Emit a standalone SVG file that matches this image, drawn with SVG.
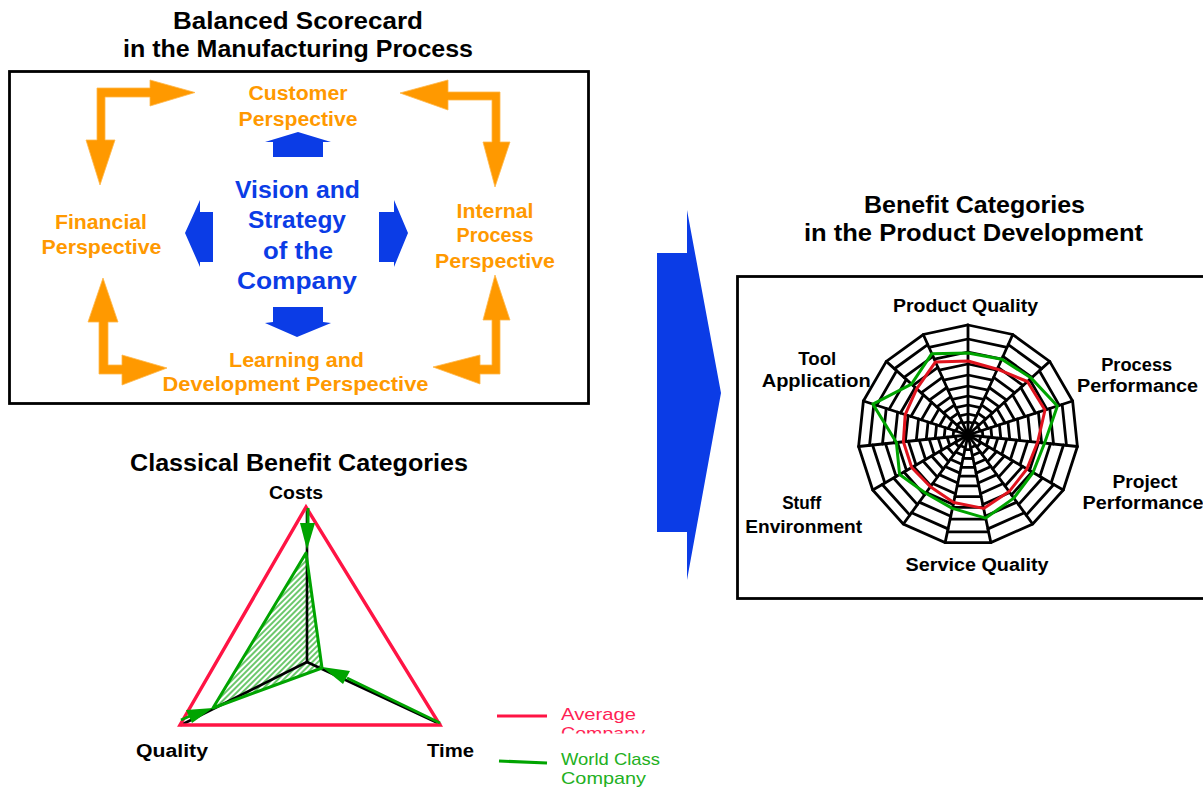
<svg xmlns="http://www.w3.org/2000/svg" xmlns:xlink="http://www.w3.org/1999/xlink" width="1203" height="787" viewBox="0 0 1203 787">
  <style>
    text { font-family: "Liberation Sans", Arial, sans-serif; }
    .ttl { font-size: 23px; font-weight: bold; fill: #000; text-anchor: middle; }
    .org { font-size: 20px; font-weight: bold; fill: #FF9900; text-anchor: middle; }
    .vis { font-size: 23px; font-weight: bold; fill: #0B3CE6; text-anchor: middle; }
    .lbl { font-size: 18px; font-weight: bold; fill: #000; text-anchor: middle; }
    .leg { font-size: 17px; }
    .frame { fill: none; stroke: #000; stroke-width: 2.8; }
    .orange { fill: #FF9900; stroke: #FFB74A; stroke-width: 0.8; }
    .blue { fill: #0B3CE6; }
    .web { stroke: #000; stroke-width: 2.8; stroke-linecap: round; fill: none; }
    .green { stroke: #00A400; stroke-width: 3; fill: none; stroke-linejoin: round; }
    .gfill { fill: #00A400; }
  </style>
  <defs>
    <pattern id="hatch" patternUnits="userSpaceOnUse" width="4" height="4" patternTransform="rotate(45)">
      <rect x="0" y="0" width="4" height="4" fill="#ffffff"/>
      <rect x="0" y="0" width="2" height="4" fill="#6CC86C"/>
    </pattern>
    <clipPath id="legClip">
      <rect x="540" y="690" width="160" height="43.5"/>
    </clipPath>
    <!-- one web sector: spoke plus ring segments, two alternating ring sets -->
    <g id="secA" class="web">
      <line x1="0" y1="0" x2="0" y2="-110"/>
      <line x1="0" y1="-13" x2="5.29" y2="-11.88"/>
      <line x1="0" y1="-21" x2="8.54" y2="-19.18"/>
      <line x1="0" y1="-30" x2="12.20" y2="-27.41"/>
      <line x1="0" y1="-39" x2="15.86" y2="-35.63"/>
      <line x1="0" y1="-49" x2="19.93" y2="-44.76"/>
      <line x1="0" y1="-60" x2="24.40" y2="-54.81"/>
      <line x1="0" y1="-71" x2="28.88" y2="-64.86"/>
      <line x1="0" y1="-83" x2="33.76" y2="-75.82"/>
      <line x1="0" y1="-96" x2="39.04" y2="-87.70"/>
    </g>
    <g id="secB" class="web">
      <line x1="0" y1="0" x2="0" y2="-110"/>
      <line x1="0" y1="-15" x2="6.10" y2="-13.70"/>
      <line x1="0" y1="-24" x2="9.76" y2="-21.92"/>
      <line x1="0" y1="-33" x2="13.42" y2="-30.15"/>
      <line x1="0" y1="-42" x2="17.08" y2="-38.37"/>
      <line x1="0" y1="-52" x2="21.15" y2="-47.50"/>
      <line x1="0" y1="-63" x2="25.62" y2="-57.55"/>
      <line x1="0" y1="-74" x2="30.10" y2="-67.60"/>
      <line x1="0" y1="-86" x2="34.98" y2="-78.56"/>
      <line x1="0" y1="-99" x2="40.26" y2="-90.44"/>
    </g>
  </defs>

  <rect width="1203" height="787" fill="#ffffff"/>

  <!-- ===== Balanced scorecard panel ===== -->
  <g id="bsc-title">
    <text class="ttl" x="298" y="29" textLength="250" lengthAdjust="spacingAndGlyphs">Balanced Scorecard</text>
    <text class="ttl" x="298" y="57" textLength="350" lengthAdjust="spacingAndGlyphs">in the Manufacturing Process</text>
  </g>
  <rect id="bsc-frame" class="frame" x="9.5" y="71.5" width="579" height="332"/>

  <g id="node-customer">
    <text class="org" x="298" y="100" textLength="99" lengthAdjust="spacingAndGlyphs">Customer</text>
    <text class="org" x="298" y="126" textLength="119" lengthAdjust="spacingAndGlyphs">Perspective</text>
  </g>
  <g id="node-financial">
    <text class="org" x="101" y="229" textLength="92" lengthAdjust="spacingAndGlyphs">Financial</text>
    <text class="org" x="101.5" y="254" textLength="120" lengthAdjust="spacingAndGlyphs">Perspective</text>
  </g>
  <g id="node-internal">
    <text class="org" x="495" y="218" textLength="77" lengthAdjust="spacingAndGlyphs">Internal</text>
    <text class="org" x="495" y="242" textLength="77" lengthAdjust="spacingAndGlyphs">Process</text>
    <text class="org" x="495" y="268" textLength="120" lengthAdjust="spacingAndGlyphs">Perspective</text>
  </g>
  <g id="node-learning">
    <text class="org" x="296.5" y="367" textLength="135" lengthAdjust="spacingAndGlyphs">Learning and</text>
    <text class="org" x="295.5" y="391" textLength="266" lengthAdjust="spacingAndGlyphs">Development Perspective</text>
  </g>
  <g id="node-vision">
    <text class="vis" x="297.5" y="198" textLength="125" lengthAdjust="spacingAndGlyphs">Vision and</text>
    <text class="vis" x="297" y="228" textLength="98" lengthAdjust="spacingAndGlyphs">Strategy</text>
    <text class="vis" x="298" y="259" textLength="70" lengthAdjust="spacingAndGlyphs">of the</text>
    <text class="vis" x="297" y="289" textLength="120" lengthAdjust="spacingAndGlyphs">Company</text>
  </g>

  <g id="connectors">
    <!-- block arrows from the vision to each perspective -->
    <polygon class="blue" points="298,132 331,142 323,142 323,157 273,157 273,142 265,142"/>
    <polygon class="blue" points="273,307 323,307 323,322 331,323 297,337 265,323 273,322"/>
    <polygon class="blue" points="213,212 200,212 200,200 185,233 200,267 200,262 213,262"/>
    <polygon class="blue" points="379,212 394,212 394,200 408,233 394,267 394,262 379,262"/>

    <!-- corner arrows linking the perspectives -->
    <path class="orange" d="M97,140 L86,140 L100,185 L115,140 L105,140 L105,97 L150,97 L150,106 L195,92.5 L150,80 L150,88 L97,88 Z"/>
    <path class="orange" d="M448,92 L448,80 L400,93 L448,110 L448,100 L492,100 L492,142 L483,142 L495,187 L510,142 L500,142 L500,92 Z"/>
    <path class="orange" d="M99,322 L88,322 L103,278 L118,322 L108,322 L108,365 L122,365 L122,355 L167,368 L122,385 L122,374 L99,374 Z"/>
    <path class="orange" d="M492,320 L483,320 L495,275 L510,320 L500,320 L500,374 L480,374 L480,384 L433,367 L480,355 L480,365 L492,365 Z"/>

    <!-- transition arrow to the product development panel -->
    <polygon class="blue" points="657,253 687,253 687,210 721,393 687,580 687,532 657,532"/>
  </g>

  <!-- ===== Classical benefit categories ===== -->
  <g id="classical-chart">
    <text class="ttl" x="299" y="471" font-size="22" textLength="338" lengthAdjust="spacingAndGlyphs">Classical Benefit Categories</text>
    <text class="lbl" x="296" y="499" font-size="19" textLength="54" lengthAdjust="spacingAndGlyphs">Costs</text>
    <text class="lbl" x="172" y="757" font-size="19" textLength="72" lengthAdjust="spacingAndGlyphs">Quality</text>
    <text class="lbl" x="450.5" y="757" font-size="19" textLength="47" lengthAdjust="spacingAndGlyphs">Time</text>

    <!-- world class area -->
    <polygon points="306,553 322,668 213,708" fill="url(#hatch)"/>
    <!-- axes -->
    <g stroke="#000" stroke-width="2.6" stroke-linecap="round">
      <line x1="307" y1="662" x2="307" y2="510"/>
      <line x1="307" y1="662" x2="181" y2="725"/>
      <line x1="307" y1="662" x2="440" y2="724"/>
    </g>
    <!-- average company -->
    <polygon points="306,507 180,725 440,725" fill="none" stroke="#FF1444" stroke-width="3.4" stroke-linejoin="miter"/>
    <!-- world class company -->
    <polygon class="green" points="306,553 322,668 213,708"/>
    <line class="green" x1="308" y1="508" x2="308" y2="525"/>
    <polygon class="gfill" points="300,523 315,523 307,550"/>
    <line class="green" x1="440" y1="723" x2="347" y2="678"/>
    <polygon class="gfill" points="322,667 350,671 343,684"/>
    <line class="green" x1="181" y1="720" x2="190" y2="716"/>
    <polygon class="gfill" points="213,708 186,710 192,723"/>
  </g>

  <g id="legend">
    <line x1="497" y1="716" x2="547" y2="716" stroke="#FF1444" stroke-width="3"/>
    <line x1="499" y1="761" x2="547" y2="763" stroke="#00A400" stroke-width="3"/>
    <g clip-path="url(#legClip)" fill="#FF1F55">
      <text class="leg" x="561" y="719.5" textLength="75" lengthAdjust="spacingAndGlyphs">Average</text>
      <text class="leg" x="561" y="738.5" textLength="84" lengthAdjust="spacingAndGlyphs">Company</text>
    </g>
    <text class="leg" x="561" y="765" fill="#22B022" textLength="99" lengthAdjust="spacingAndGlyphs">World Class</text>
    <text class="leg" x="561" y="783.5" fill="#22B022" textLength="85" lengthAdjust="spacingAndGlyphs">Company</text>
  </g>

  <!-- ===== Product development panel ===== -->
  <g id="pd-title">
    <text class="ttl" x="974.5" y="213" textLength="221" lengthAdjust="spacingAndGlyphs">Benefit Categories</text>
    <text class="ttl" x="973.5" y="241" textLength="339" lengthAdjust="spacingAndGlyphs">in the Product Development</text>
  </g>
  <rect id="pd-frame" class="frame" x="737.5" y="276.5" width="480" height="322"/>

  <g id="spider-chart">
    <g transform="translate(968,435)">
      <use xlink:href="#secA" href="#secA" transform="rotate(0)"/>
      <use xlink:href="#secB" href="#secB" transform="rotate(24)"/>
      <use xlink:href="#secA" href="#secA" transform="rotate(48)"/>
      <use xlink:href="#secB" href="#secB" transform="rotate(72)"/>
      <use xlink:href="#secA" href="#secA" transform="rotate(96)"/>
      <use xlink:href="#secB" href="#secB" transform="rotate(120)"/>
      <use xlink:href="#secA" href="#secA" transform="rotate(144)"/>
      <use xlink:href="#secB" href="#secB" transform="rotate(168)"/>
      <use xlink:href="#secA" href="#secA" transform="rotate(192)"/>
      <use xlink:href="#secB" href="#secB" transform="rotate(216)"/>
      <use xlink:href="#secA" href="#secA" transform="rotate(240)"/>
      <use xlink:href="#secB" href="#secB" transform="rotate(264)"/>
      <use xlink:href="#secA" href="#secA" transform="rotate(288)"/>
      <use xlink:href="#secB" href="#secB" transform="rotate(312)"/>
      <use xlink:href="#secA" href="#secA" transform="rotate(336)"/>
    </g>
    <polygon class="web" stroke-linejoin="miter" points="968,325 1012.7,334.5 1049.7,361.4 1072.6,401 1077.4,446.5 1063.3,490 1032.7,524 990.9,542.6 945.1,542.6 903.3,524 872.7,490 858.6,446.5 863.4,401 886.3,361.4 923.3,334.5"/>
    <!-- average company profile -->
    <polygon fill="none" stroke="#E0141E" stroke-width="3" stroke-linejoin="round" points="968,361 997.3,369.2 1027.4,381.5 1045,410 1037.6,442.3 1026.9,469 1009.1,491.6 983.6,508.4 953.7,502.5 930.4,486.8 911.7,467.5 903.4,441.8 905.2,414.6 916.7,388.8 935.5,361.9"/>
    <!-- world class profile -->
    <polygon class="green" points="968,353 1001.8,359.2 1031.2,378.1 1057.4,406 1044.6,443 1033,472.5 1013.8,498.1 985.7,518.1 952.4,508.4 925.7,493.2 899.6,474.5 896.4,442.5 872.9,404.1 911.5,384.2 931.8,353.7"/>
  </g>

  <g id="label-product-quality"><text class="lbl" x="965.5" y="311.5" textLength="145" lengthAdjust="spacingAndGlyphs">Product Quality</text></g>
  <g id="label-process-performance">
    <text class="lbl" x="1136.7" y="370.5" textLength="71" lengthAdjust="spacingAndGlyphs">Process</text>
    <text class="lbl" x="1137.5" y="391.5" textLength="121" lengthAdjust="spacingAndGlyphs">Performance</text>
  </g>
  <g id="label-project-performance">
    <text class="lbl" x="1145" y="488" textLength="65" lengthAdjust="spacingAndGlyphs">Project</text>
    <text class="lbl" x="1143" y="509" textLength="121" lengthAdjust="spacingAndGlyphs">Performance</text>
  </g>
  <g id="label-service-quality"><text class="lbl" x="977" y="571" textLength="143" lengthAdjust="spacingAndGlyphs">Service Quality</text></g>
  <g id="label-stuff-environment">
    <text class="lbl" x="801.7" y="509" textLength="39" lengthAdjust="spacingAndGlyphs">Stuff</text>
    <text class="lbl" x="803.7" y="533" textLength="117" lengthAdjust="spacingAndGlyphs">Environment</text>
  </g>
  <g id="label-tool-application">
    <text class="lbl" x="817.3" y="365" textLength="38" lengthAdjust="spacingAndGlyphs">Tool</text>
    <text class="lbl" x="816.2" y="386.5" textLength="109" lengthAdjust="spacingAndGlyphs">Application</text>
  </g>
</svg>
